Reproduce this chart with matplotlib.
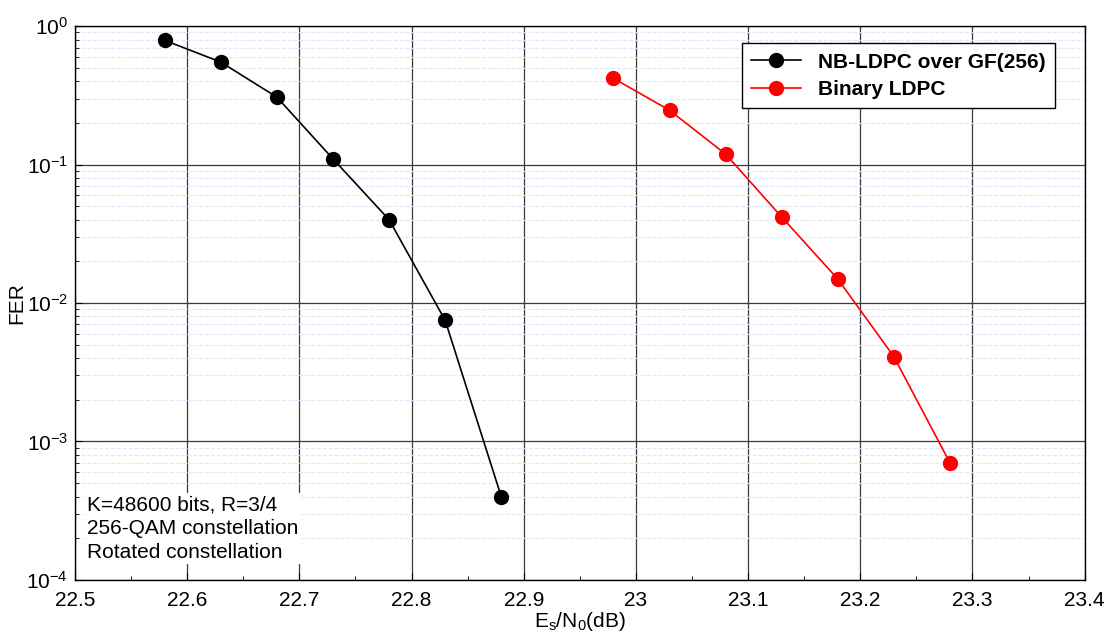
import matplotlib.pyplot as plt
from matplotlib.ticker import MultipleLocator, LogLocator, NullFormatter

plt.rcParams['font.family'] = ['Liberation Sans', 'DejaVu Sans']
plt.rcParams['mathtext.fontset'] = 'custom'
plt.rcParams['mathtext.rm'] = 'Liberation Sans'
plt.rcParams['mathtext.it'] = 'Liberation Sans:italic'

# Es/N0 (dB) and FER values
snr_nb = [22.58, 22.63, 22.68, 22.73, 22.78, 22.83, 22.88]
fer_nb = [0.79, 0.55, 0.307, 0.11, 0.040, 0.0075, 4.0e-4]
snr_bin = [22.98, 23.03, 23.08, 23.13, 23.18, 23.23, 23.28]
fer_bin = [0.42, 0.247, 0.119, 0.0418, 0.0149, 0.0041, 7.0e-4]

fig = plt.figure(figsize=(11.09, 6.38), dpi=100)
ax = fig.add_axes([0.0676, 0.091, 0.9104, 0.868])

ax.semilogy(snr_nb, fer_nb, '-o', color='black', lw=1.2, ms=10,
            label='NB-LDPC over GF(256)', zorder=3)
ax.semilogy(snr_bin, fer_bin, '-o', color='red', lw=1.2, ms=10,
            label='Binary LDPC', zorder=3)

ax.set_xlim(22.5, 23.4)
ax.set_ylim(1e-4, 1)
ax.xaxis.set_major_locator(MultipleLocator(0.1))
ax.xaxis.set_minor_locator(MultipleLocator(0.05))
ax.yaxis.set_major_locator(LogLocator(base=10, numticks=10))
ax.yaxis.set_minor_locator(LogLocator(base=10, subs=range(2, 10), numticks=20))
ax.yaxis.set_minor_formatter(NullFormatter())
ax.xaxis.set_major_formatter(plt.FuncFormatter(lambda v, p: f'{v:g}'))

ax.grid(which='major', color='#3a3a3a', lw=0.9)
ax.grid(which='minor', axis='y', color='#e4e4fa', lw=0.8, ls='--')
ax.set_axisbelow(True)

ax.tick_params(which='both', direction='in', labelsize=15)
ax.tick_params(which='major', length=5, pad=5)
ax.tick_params(axis='x', which='major', pad=8)
ax.tick_params(which='minor', length=3)
for s in ax.spines.values():
    s.set_linewidth(1.0)

ax.set_xlabel(r'E$_\mathrm{s}$/N$_\mathrm{0}$(dB)', fontsize=15, labelpad=0)
ax.set_ylabel('FER', fontsize=15, labelpad=0)

leg = ax.legend(loc='upper right', bbox_to_anchor=(0.981, 0.988), fancybox=False,
                edgecolor='black', framealpha=1, prop={'weight': 'bold', 'size': 15},
                handlelength=2.4, borderpad=0.45, labelspacing=0.4)
leg.get_frame().set_linewidth(1.0)

ax.text(0.012, 0.033, 'K=48600 bits, R=3/4\n256-QAM constellation\nRotated constellation',
        transform=ax.transAxes, fontsize=15, va='bottom', ha='left', linespacing=1.3,
        bbox=dict(facecolor='white', edgecolor='none', pad=2), zorder=4)

fig.savefig('out.png', dpi=100)
